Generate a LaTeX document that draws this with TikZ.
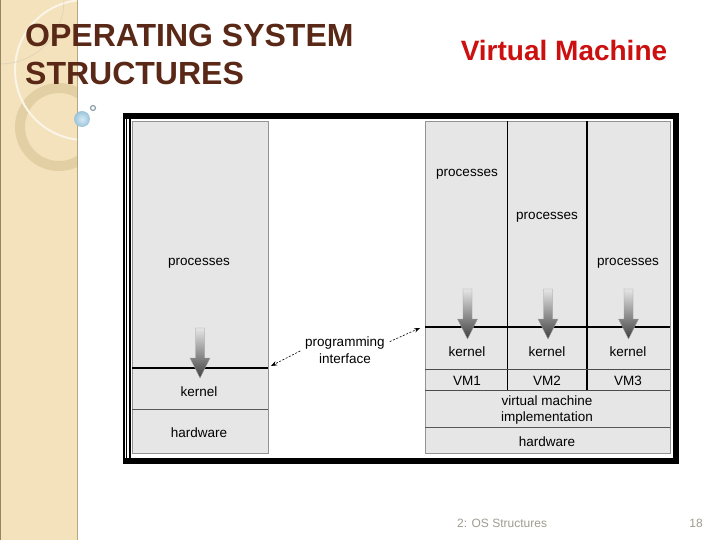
\documentclass[tikz,border=0pt]{standalone}
\usepackage{fontspec}
\setmainfont{Liberation Sans}
\usepackage{tikz}
\usetikzlibrary{positioning,arrows.meta}
\definecolor{titlebrown}{RGB}{90,40,22}
\definecolor{slidered}{RGB}{204,16,16}
\definecolor{sidebeige}{RGB}{243,226,188}
\definecolor{sideedge}{RGB}{186,166,126}
\definecolor{ringbeige}{RGB}{226,207,164}
\definecolor{cellgray}{RGB}{230,230,230}
\definecolor{footgray}{RGB}{160,156,144}
\definecolor{bubbleblue}{RGB}{160,208,232}
\tikzset{
  cell/.style={fill=cellgray, draw=gray!85, line width=0.8pt},
  celltext/.style={font=\fontsize{13.5}{16}\selectfont, inner sep=1pt, align=center},
  titletext/.style={font=\bfseries\fontsize{32}{38}\selectfont, text=titlebrown, inner sep=0pt},
  apiline/.style={line width=2.6pt},
  apiarrow/.style={line width=0.6pt, dash pattern=on 2pt off 1.6pt,
    -{Stealth[length=6pt,width=4.5pt]}, shorten <=2pt},
}
% down arrow from processes into the kernel: x centre, y top
\newcommand{\syscallarrow}[2]{%
  \shadedraw[top color=gray!20, bottom color=black!75, draw=gray!75, line width=0.4pt]
    (#1-4.5,#2) -- (#1+4.5,#2) -- (#1+4.5,#2+30) -- (#1+10,#2+30)
    -- (#1,#2+50) -- (#1-10,#2+30) -- (#1-4.5,#2+30) -- cycle;
}

\begin{document}
\begin{tikzpicture}[x=1pt, y=-1pt]
    \useasboundingbox (0,0) rectangle (720,540);
    % slide background
    \fill[white] (0,0) rectangle (720,540);
    \fill[sidebeige] (0,0) rectangle (78,540);
    \begin{scope}
        \clip (0,0) rectangle (77,540);
        \draw[ringbeige, line width=10pt] (59,127) circle[radius=39];
        \draw[white!65!sidebeige, line width=2pt] (85,70) circle[radius=70];
        \draw[sideedge!55, line width=0.5pt] (0,0) circle[radius=64];
    \end{scope}
    \draw[sideedge, line width=1.2pt] (77.4,0) -- (77.4,540);
    \draw[sideedge!80!black, line width=0.8pt] (0.4,0) -- (0.4,540);
    \shade[inner color=white!55!bubbleblue, outer color=bubbleblue!85!gray] (82,119) circle[radius=8];
    \draw[gray!60!bubbleblue, line width=1.2pt] (93,108) circle[radius=2.5];
    % titles
    \node[titletext, anchor=base west] (title_top) at (25,47) {OPERATING SYSTEM};
    \node[titletext, anchor=base west] (title_bottom) at (25,85) {STRUCTURES};
    \node[font=\bfseries\fontsize{28}{32}\selectfont, text=slidered, anchor=base] (vm_title) at (564,61) {Virtual Machine};
    % figure frame
    \fill[black] (123,113) rectangle (679,464);
    \fill[white] (130.5,119) rectangle (673,458);
    \fill[white] (124.7,119) rectangle (126,458);
    \fill[white] (127.2,119) rectangle (128.7,458);
    % non-virtual machine
    \draw[cell] (132,121) rectangle (268,453);
    \draw[apiline] (132,368) -- (268,368);
    \draw[gray!70!black, line width=0.8pt] (132,409) -- (268,409);
    \syscallarrow{200}{328}
    % virtual machines
    \draw[cell] (425,121) rectangle (670,453);
    \draw[line width=0.9pt] (507,121) -- (507,390);
    \draw[line width=1.4pt] (587,121) -- (587,390);
    \draw[apiline] (425,327) -- (670,327);
    \draw[gray!60!black, line width=0.8pt] (425,369) -- (670,369);
    \draw[gray!60!black, line width=0.8pt] (425,390) -- (670,390);
    \draw[gray!70!black, line width=0.8pt] (425,427) -- (670,427);
    \syscallarrow{467.5}{289}
    \syscallarrow{548}{289}
    \syscallarrow{628.5}{289}
    % add labels
    \node[celltext] (proc_host) at (199,263) {processes};
    \node[celltext] (kernel_host) at (199,392) {kernel};
    \node[celltext] (hw_host) at (199,433) {hardware};
    \node[celltext] (proc_vm1) at (467,174) {processes};
    \node[celltext] (proc_vm2) at (547,217) {processes};
    \node[celltext] (proc_vm3) at (628,263) {processes};
    \node[celltext] (kernel_vm1) at (467,352) {kernel};
    \node[celltext] (kernel_vm2) at (547,352) {kernel};
    \node[celltext] (kernel_vm3) at (628,352) {kernel};
    \node[celltext] (vm1) at (467,381) {VM1};
    \node[celltext] (vm2) at (547,381) {VM2};
    \node[celltext] (vm3) at (628,381) {VM3};
    \node[celltext] (vmm) at (547,410) {virtual machine\\implementation};
    \node[celltext] (hw_vm) at (547,442) {hardware};
    % programming interface
    \coordinate (api_left) at (271,366);
    \coordinate (api_right) at (420,328);
    \node[celltext, font=\fontsize{13.5}{17}\selectfont, inner sep=3pt] (api) at (345,350) {programming\\interface};
    \draw[apiarrow] (api.west) -- (api_left);
    \draw[apiarrow] (api.10) -- (api_right);
    % footer
    \node[font=\fontsize{12}{14}\selectfont, text=footgray, anchor=base west, inner sep=0pt] (footer) at (457,527) {2: OS Structures};
    \node[font=\fontsize{12}{14}\selectfont, text=footgray, anchor=base east, inner sep=0pt] (page_no) at (703,527) {18};
\end{tikzpicture}
\end{document}
